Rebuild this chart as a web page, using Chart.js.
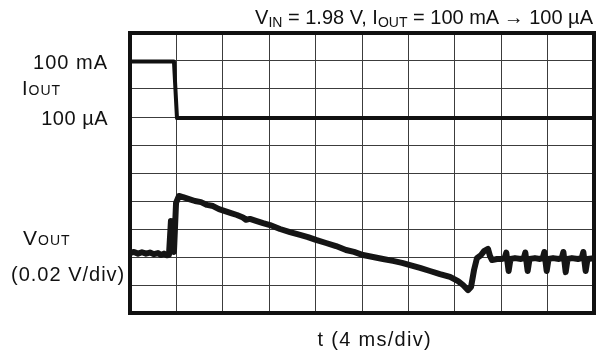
<!DOCTYPE html>
<html>
<head>
<meta charset="utf-8">
<script src="https://cdn.jsdelivr.net/npm/chart.js@4.4.1/dist/chart.umd.min.js"></script>
<style>
  html, body { margin: 0; padding: 0; background: #fff; }
  #wrap { position: relative; width: 602px; height: 351px; overflow: hidden;
          font-family: "Liberation Sans", Arial, Helvetica, sans-serif; color: #111; }
  #wrap canvas { position: absolute; left: 0; top: 0; }
  .lbl { position: absolute; font-size: 20px; line-height: 20px; white-space: nowrap; }
  .sc { font-size: 14px; }
  sub { font-size: 14px; line-height: 0; vertical-align: -3px; }
</style>
</head>
<body>
<div id="wrap">
  <canvas id="scope" width="602" height="351"></canvas>
</div>
<script>
// Time axis: 10 divisions of 4 ms. Vertical axis in screen divisions (10 of them).
const timeMin = 0, timeMax = 40, timeStep = 4;
const divMin = 0, divMax = 10, divStep = 1;

// Load current step: 100 mA -> 100 uA
const iTime = [0, 3.79, 4.05, 40];
const iOut  = [8.98, 8.98, 6.96, 6.96];
const iLevels = [8.98, 6.96];
const iLevelLabels = ['100 mA', '100 µA'];

// Output voltage response (0.02 V/div)
const vTime = [
  0.00, 0.34, 0.69, 1.03, 1.38, 1.72, 2.07, 2.41, 2.67, 2.93, 3.19, 3.36,
  3.53, 3.66, 3.79, 3.97, 4.22, 4.57, 5.09, 5.60, 6.12, 6.64, 7.16, 7.67,
  8.19, 8.71, 9.22, 9.74, 10.00, 10.34, 10.86, 11.47, 12.07, 12.93, 13.79, 14.66,
  15.34, 16.03, 16.90, 17.76, 18.62, 19.31, 20.09, 20.95, 21.81, 22.67, 23.45, 24.14,
  25.00, 25.86, 26.72, 27.59, 28.28, 28.71, 29.14, 29.40, 29.66, 29.91, 30.26, 30.52,
  30.86, 31.03, 31.21, 31.64, 32.07, 32.30, 32.44, 32.64, 32.80, 33.19, 33.71, 33.95,
  34.08, 34.28, 34.44, 34.91, 35.34, 35.58, 35.72, 35.92, 36.08, 36.47, 36.98, 37.22,
  37.36, 37.56, 37.72, 38.10, 38.62, 38.94, 39.08, 39.28, 39.44, 40.00
];
const vOut = [
  2.14, 2.18, 2.12, 2.17, 2.12, 2.16, 2.10, 2.14, 2.07, 2.12, 2.06, 2.08,
  3.29, 2.79, 2.18, 3.93, 4.18, 4.14, 4.07, 4.00, 3.96, 3.86, 3.82, 3.71,
  3.64, 3.57, 3.50, 3.41, 3.33, 3.36, 3.29, 3.21, 3.14, 3.00, 2.89, 2.79,
  2.71, 2.61, 2.50, 2.39, 2.25, 2.18, 2.07, 2.00, 1.93, 1.86, 1.79, 1.71,
  1.61, 1.50, 1.39, 1.29, 1.14, 1.00, 0.82, 0.93, 1.54, 1.96, 2.07, 2.21,
  2.29, 2.04, 1.89, 1.93, 1.93, 1.96, 2.16, 1.50, 1.93, 1.96, 1.93, 1.96,
  2.16, 1.50, 1.93, 1.96, 1.93, 1.96, 2.18, 1.50, 1.93, 1.96, 1.93, 1.96,
  2.18, 1.46, 1.93, 1.96, 1.93, 1.96, 2.18, 1.50, 1.93, 1.96
];

const titleHtml = 'V<sub>IN</sub> = 1.98 V, I<sub>OUT</sub> = 100 mA \u2192 100 \u00b5A';
const iAxisHtml = 'I<span class="sc">OUT</span>';
const vAxisHtml = 'V<span class="sc">OUT</span>';
const vScaleText = '(0.02 V/div)';
const tAxisText = 't (4 ms/div)';

const toPoints = (xs, ys) => xs.map((x, k) => ({ x: x, y: ys[k] }));

// Heavy frame around the graticule, drawn under the traces
const framePlugin = {
  id: 'frame',
  beforeDatasetsDraw(chart) {
    const { ctx, chartArea: a } = chart;
    ctx.save();
    ctx.strokeStyle = '#111';
    ctx.lineWidth = 4;
    ctx.strokeRect(a.left, a.top, a.right - a.left, a.bottom - a.top);
    ctx.restore();
  }
};

const gridStyle = { color: '#3c3c3c', lineWidth: 1, drawTicks: false };

const chart = new Chart(document.getElementById('scope'), {
  type: 'line',
  data: {
    datasets: [
      {
        label: 'IOUT',
        data: toPoints(iTime, iOut),
        borderColor: '#111',
        borderWidth: 4,
        pointRadius: 0,
        tension: 0,
        borderJoinStyle: 'round',
        borderCapStyle: 'round'
      },
      {
        label: 'VOUT',
        data: toPoints(vTime, vOut),
        borderColor: '#151515',
        borderWidth: 6,
        pointRadius: 0,
        tension: 0,
        borderJoinStyle: 'round',
        borderCapStyle: 'round'
      }
    ]
  },
  options: {
    responsive: false,
    animation: false,
    devicePixelRatio: 1,
    layout: { padding: { left: 130, top: 33, right: 8, bottom: 38 } },
    plugins: { legend: { display: false }, tooltip: { enabled: false }, title: { display: false } },
    scales: {
      x: {
        type: 'linear', min: timeMin, max: timeMax,
        ticks: { display: false, stepSize: timeStep },
        grid: gridStyle, border: { display: false }
      },
      y: {
        type: 'linear', min: divMin, max: divMax,
        ticks: { display: false, stepSize: divStep },
        grid: gridStyle, border: { display: false }
      }
    }
  },
  plugins: [framePlugin]
});

// Text labels placed from the chart's own scales
const wrap = document.getElementById('wrap');
function addLabel(html, css) {
  const d = document.createElement('div');
  d.className = 'lbl';
  d.innerHTML = html;
  Object.assign(d.style, css);
  wrap.appendChild(d);
  return d;
}
const area = chart.chartArea;
const ys = chart.scales.y;

addLabel(titleHtml, { right: (602 - area.right + 1) + 'px', top: '7px' });

const levelSpacing = ['1px', '0.5px'];
iLevels.forEach((lv, k) => {
  const py = ys.getPixelForValue(lv);
  addLabel(iLevelLabels[k], {
    right: (602 - area.left + 22) + 'px', top: (py - 10) + 'px', letterSpacing: levelSpacing[k]
  });
});
addLabel(iAxisHtml, { left: '22px', top: '78px', letterSpacing: '1px' });
addLabel(vAxisHtml, { left: '23px', top: '228px', fontSize: '21px', letterSpacing: '1px' });
addLabel(vScaleText, { left: '11px', top: '264px', letterSpacing: '1px' });

const tLbl = addLabel(tAxisText, { top: (area.bottom + 16) + 'px', letterSpacing: '1.3px' });
tLbl.style.left = (375 - tLbl.offsetWidth / 2) + 'px';
</script>
</body>
</html>
